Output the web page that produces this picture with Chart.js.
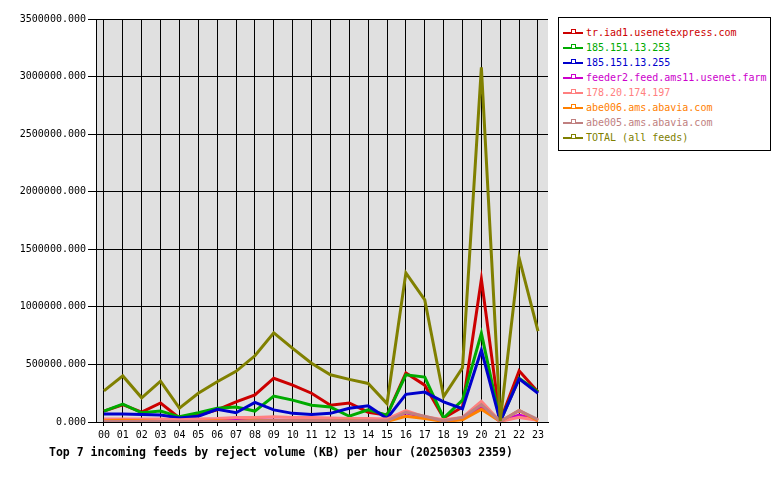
<!DOCTYPE html>
<html>
<head>
<meta charset="utf-8">
<script src="https://cdn.jsdelivr.net/npm/chart.js@4/dist/chart.umd.min.js"></script>
<style>
  html, body { margin: 0; padding: 0; background: #fff; }
  #wrap { position: relative; width: 780px; height: 480px; }
  #legend {
    position: absolute; left: 558px; top: 17px; width: 211px; height: 132px;
    border: 1px solid #000; background: #fff;
    font: 10px "DejaVu Sans Mono", monospace;
  }
  .item { position: absolute; left: 4px; height: 14px; line-height: 14px; white-space: nowrap; }
  .line { position: absolute; left: 0; top: 6px; width: 20px; height: 2px; }
  .box { position: absolute; left: 8px; top: 3px; width: 3px; height: 3px; border-width: 1px 1px 0 1px; border-style: solid; background: #fff; }
  .txt { position: absolute; left: 23px; top: 0; }
  #title {
    position: absolute; left: 49px; top: 445px;
    font: bold 11.5px "DejaVu Sans Mono", monospace; color: #000; white-space: nowrap;
  }
</style>
</head>
<body>
<div id="wrap">
  <canvas id="c" width="780" height="480"></canvas>
  <div id="legend"></div>
  <div id="title">Top 7 incoming feeds by reject volume (KB) per hour (20250303 2359)</div>
</div>
<script>
// -- data ------------------------------------------------------------------->
const hours = ['00','01','02','03','04','05','06','07','08','09','10','11',
               '12','13','14','15','16','17','18','19','20','21','22','23'];

const feedNames = ['tr.iad1.usenetexpress.com', '185.151.13.253', '185.151.13.255',
                   'feeder2.feed.ams11.usenet.farm', '178.20.174.197',
                   'abe006.ams.abavia.com', 'abe005.ams.abavia.com', 'TOTAL (all feeds)'];
const feedColors = ['#cc0000', '#00aa00', '#0000cc', '#cc00cc', '#ff8080',
                    '#ff8000', '#c08080', '#808000'];

// values in KB
const usenetexpress = [95000, 150000, 85000, 165000, 35000, 60000, 105000, 175000, 235000, 380000, 320000, 250000,
                       145000, 165000, 85000, 60000, 425000, 320000, 35000, 130000, 1240000, 10000, 445000, 260000];
const ip253 = [95000, 155000, 80000, 95000, 45000, 80000, 120000, 130000, 95000, 225000, 190000, 145000,
               130000, 50000, 105000, 60000, 410000, 390000, 35000, 190000, 770000, 5000, 380000, 260000];
const ip255 = [70000, 70000, 65000, 60000, 35000, 50000, 110000, 80000, 170000, 105000, 75000, 65000,
               75000, 120000, 140000, 30000, 240000, 260000, 175000, 115000, 625000, 5000, 375000, 250000];
const feeder2 = [15000, 15000, 10000, 10000, 5000, 10000, 15000, 20000, 20000, 15000, 15000, 15000,
                 15000, 10000, 10000, 20000, 80000, 40000, 10000, 25000, 130000, 5000, 60000, 15000];
const ip197 = [25000, 25000, 25000, 25000, 20000, 25000, 30000, 40000, 40000, 45000, 40000, 40000,
               35000, 30000, 30000, 25000, 100000, 45000, 20000, 40000, 180000, 5000, 40000, 15000];
const abe006 = [10000, 15000, 10000, 5000, 5000, 5000, 10000, 5000, 15000, 10000, 10000, 10000,
                10000, 15000, 5000, 5000, 50000, 30000, 5000, 20000, 110000, 5000, 100000, 10000];
const abe005 = [5000, 5000, 5000, 5000, 5000, 5000, 5000, 5000, 10000, 10000, 10000, 10000,
                10000, 10000, 10000, 10000, 85000, 50000, 10000, 40000, 150000, 5000, 100000, 20000];
const total = [270000, 400000, 210000, 355000, 120000, 250000, 350000, 440000, 575000, 775000, 640000, 510000,
               410000, 370000, 335000, 160000, 1295000, 1060000, 220000, 470000, 3080000, 10000, 1425000, 790000];

const series = [usenetexpress, ip253, ip255, feeder2, ip197, abe006, abe005, total];

// -- legend ----------------------------------------------------------------->
const legend = document.getElementById('legend');
feedNames.forEach((name, i) => {
    const c = feedColors[i];
    const row = document.createElement('div');
    row.className = 'item';
    row.style.top = (8 + i * 15) + 'px';
    row.innerHTML = '<span class="line" style="background:' + c + '"></span>' +
        '<span class="box" style="border-color:' + c + '"></span>' +
        '<span class="txt" style="color:' + c + '">' + name + '</span>';
    legend.appendChild(row);
});

// -- chart ------------------------------------------------------------------>
const datasets = series.map((vals, i) => ({
    label: feedNames[i],
    data: vals.map((v, h) => ({ x: h, y: v })),
    borderColor: feedColors[i],
    borderWidth: 3,
    pointRadius: 0,
    tension: 0,
    fill: false,
    order: series.length - 1 - i
}));

const plotBg = {
    id: 'plotBg',
    beforeDraw(chart) {
        const { ctx, chartArea: a } = chart;
        ctx.save();
        ctx.fillStyle = '#e0e0e0';
        ctx.fillRect(a.left, a.top, a.right - a.left, a.bottom - a.top);
        ctx.restore();
    }
};

const font = { family: 'DejaVu Sans Mono', size: 10 };

new Chart(document.getElementById('c'), {
    type: 'line',
    data: { datasets },
    plugins: [plotBg],
    options: {
        responsive: false,
        animation: false,
        layout: { padding: { left: 0, top: 19, right: 232, bottom: 38 } },
        plugins: { legend: { display: false }, tooltip: { enabled: false } },
        scales: {
            x: {
                type: 'linear',
                min: -0.42,
                max: 23.53,
                afterBuildTicks: s => { s.ticks = hours.map((h, i) => ({ value: i })); },
                afterFit: s => { s.height = 20; },
                ticks: { color: '#000', font, padding: 3, autoSkip: false, maxRotation: 0,
                         callback: v => hours[v] },
                grid: { color: '#000', lineWidth: 1, tickLength: 4, tickColor: '#000' },
                border: { color: '#000', width: 1 }
            },
            y: {
                min: 0,
                max: 3500000,
                afterFit: s => { s.width = 96; },
                ticks: { stepSize: 500000, color: '#000', font, padding: 2,
                         callback: v => v.toFixed(3) },
                grid: { color: '#000', lineWidth: 1, tickLength: 8, tickColor: '#000' },
                border: { color: '#000', width: 1 }
            }
        }
    }
});
</script>
</body>
</html>
